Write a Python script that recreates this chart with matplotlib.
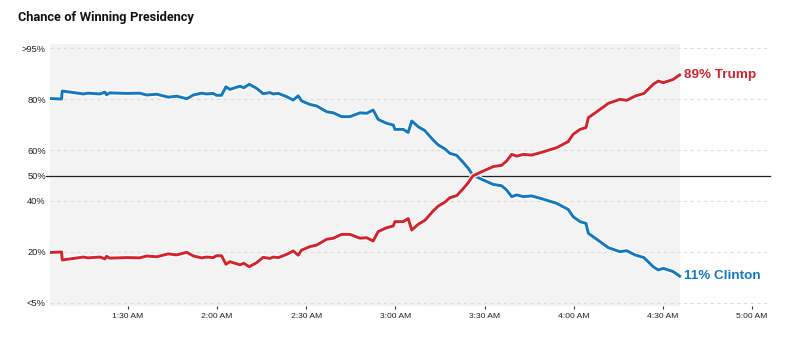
import numpy as np
import matplotlib
matplotlib.use("Agg")
import matplotlib.pyplot as plt
import matplotlib.patheffects as pe
from matplotlib import font_manager

# minutes after 1:00 AM
minutes = [3.8, 7.7, 7.9, 15, 16.6, 20.6, 22.3, 22.8, 23.9, 29.6, 34, 36.3, 39.7, 43.6, 46.4,
           49.8, 52, 54.8, 56.5, 58.7, 59.8, 61.5, 63, 64.3, 67.7, 69, 70.8, 73.3, 75.5, 77.8,
           78.9, 80.6, 83.4, 85.6, 87.3, 88.4, 91.2, 93.5, 96.9, 99.1, 101.9, 104.7, 108.1, 110.3,
           112.5, 114.2, 117, 119.3, 119.8, 122.6, 124.3, 125.5, 127.7, 129.9, 132.7, 134.4, 136.7,
           138.3, 140.6, 142.6, 144.5, 146, 149.6, 152.9, 155.7, 157.4, 159.1, 160.8, 163, 165.8,
           168.6, 174.2, 178.1, 179.8, 182.1, 184.1, 184.9, 187.7, 191.6, 195.5, 197.8, 200.6,
           203.6, 206.7, 208.4, 210.1, 213.4, 215.6]

clinton = [80.2, 80.0, 83.0, 81.9, 82.2, 81.9, 82.6, 81.6, 82.3, 82.1, 82.2, 81.5, 81.8, 80.7, 81.1,
           80.1, 81.5, 82.2, 81.9, 82.1, 81.4, 81.4, 84.6, 83.6, 84.8, 84.2, 85.5, 84.0, 82.0, 82.4,
           81.9, 82.1, 80.9, 79.6, 81.2, 79.3, 77.9, 77.3, 75.0, 74.6, 73.1, 73.1, 74.6, 74.4,
           75.7, 72.0, 70.5, 69.8, 68.1, 68.1, 66.9, 71.4, 69.1, 67.6, 63.9, 62.0, 60.4,
           58.7, 57.9, 55.4, 52.8, 50.2, 48.2, 46.5, 46.0, 44.3, 41.7, 42.4, 41.7, 42.0,
           41.1, 39.1, 36.7, 33.8, 31.9, 31.2, 27.3, 25.0, 21.7, 20.1, 20.5, 18.9,
           17.9, 14.5, 13.3, 13.9, 12.7, 11.0]
trump = [100 - v for v in clinton]

y_ticks = [1, 20, 40, 50, 60, 80, 99]
y_labels = ["<5%", "20%", "40%", "50%", "60%", "80%", ">95%"]
x_ticks = [30, 60, 90, 120, 150, 180, 210, 240]
x_labels = ["1:30 AM", "2:00 AM", "2:30 AM", "3:00 AM", "3:30 AM", "4:00 AM", "4:30 AM", "5:00 AM"]

RED = "#d3242c"
BLUE = "#1378bd"

# the needle's y axis: evenly spaced steps, not linear in percent
vals = [-18, 1, 20, 40, 60, 80, 99, 118]
pos = [-1, 0, 1, 2, 3, 4, 5, 6]

def fwd(v):
    return np.interp(v, vals, pos)

def inv(p):
    return np.interp(p, pos, vals)

fig = plt.figure(figsize=(8, 3.4), dpi=100)
ax = fig.add_axes([50 / 800, 34 / 340, 720 / 800, 262 / 340])
ax.set_yscale("function", functions=(fwd, inv))
ax.set_xlim(3.8, 246)
ax.set_ylim(inv(-0.06), inv(5.08))

ax.axvspan(minutes[0], minutes[-1], color="#f3f3f3", zorder=0, lw=0)
for t in y_ticks:
    if t == 50:
        continue
    ax.axhline(t, color="#dcdcdc", lw=0.8, ls=(0, (3, 3)), zorder=1)
ax.axhline(50, color="#222222", lw=0.9, zorder=2, xmin=-0.005, clip_on=False)

halo = [pe.Stroke(linewidth=3.8, foreground="white"), pe.Normal()]
ax.plot(minutes, trump, color=RED, lw=2.1, zorder=4, path_effects=halo, solid_joinstyle="round")
ax.plot(minutes, clinton, color=BLUE, lw=2.1, zorder=3, path_effects=halo, solid_joinstyle="round")

lab_font = dict(family=["Liberation Sans", "DejaVu Sans"], fontsize=9.7, fontweight="bold",
                va="center", ha="left")
ax.annotate(f"{trump[-1]:.0f}% Trump", (minutes[-1], trump[-1]), xytext=(3, 0),
            textcoords="offset points", color=RED, **lab_font)
ax.annotate(f"{clinton[-1]:.0f}% Clinton", (minutes[-1], clinton[-1]), xytext=(3, 0),
            textcoords="offset points", color=BLUE, **lab_font)

for s in ax.spines.values():
    s.set_visible(False)
ax.set_yticks(y_ticks)
ax.set_yticklabels(y_labels)
ax.set_xticks(x_ticks)
ax.set_xticklabels(x_labels)
ax.tick_params(axis="y", length=0, pad=3, labelsize=6.7, labelcolor="#222222")
ax.tick_params(axis="x", length=2.3, width=0.8, color="#333333", pad=2.5,
               labelsize=6.1, labelcolor="#222222")
for lbl in ax.get_xticklabels() + ax.get_yticklabels():
    lbl.set_family(["Liberation Sans", "DejaVu Sans"])

# title: pick the bold face whose width at ~10.3pt is closest to the reference (176 px)
bold_families = sorted({f.name for f in font_manager.fontManager.ttflist
                        if f.weight == "bold" or (isinstance(f.weight, int) and f.weight >= 600)})
title = fig.text(18 / 800, 1 - 17 / 340, "Chance of Winning Presidency",
                 fontsize=10.3, fontweight="bold", color="#111111", va="center", ha="left")
renderer = fig.canvas.get_renderer()
best, best_err = "Liberation Sans", None
for fam in bold_families:
    title.set_family([fam, "DejaVu Sans"])
    w = title.get_window_extent(renderer).width
    err = abs(w - 176)
    if best_err is None or err < best_err:
        best, best_err = fam, err
title.set_family([best, "DejaVu Sans"])
w = title.get_window_extent(renderer).width
title.set_fontsize(10.3 * 176 / w)

fig.savefig("out.png", dpi=100)
